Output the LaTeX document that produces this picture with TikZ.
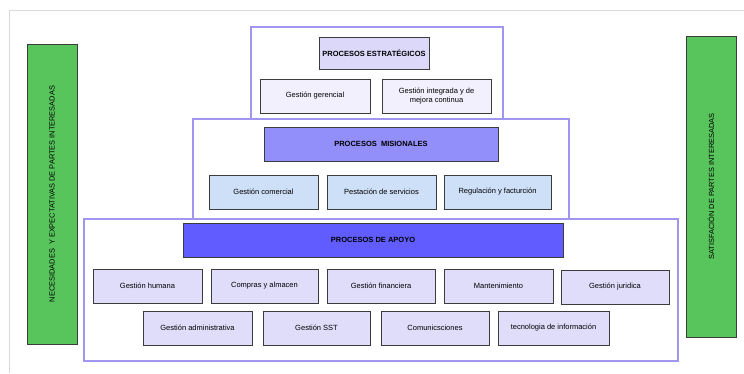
\documentclass[tikz,border=0pt]{standalone}
\usepackage{fontspec}
\setmainfont{Liberation Sans}
\definecolor{marco}{RGB}{160,150,240}
\definecolor{verde}{RGB}{88,196,92}
\definecolor{borde}{RGB}{60,60,60}
\definecolor{esthead}{RGB}{220,216,250}
\definecolor{estsub}{RGB}{241,240,252}
\definecolor{mishead}{RGB}{146,142,250}
\definecolor{missub}{RGB}{206,223,248}
\definecolor{apohead}{RGB}{96,92,255}
\definecolor{aposub}{RGB}{223,221,250}
\tikzset{
  caja/.style={draw=borde, line width=0.8pt, inner sep=1pt, align=center,
    font=\fontsize{7.5}{8.5}\selectfont, minimum height=34pt},
  cabeza/.style={caja, font=\fontsize{7.5}{8.5}\selectfont\bfseries},
  barra/.style={draw=borde, line width=0.8pt, fill=verde, minimum height=50pt,
    font=\fontsize{7.4}{8}\selectfont, rotate=90, inner sep=0pt},
  marcobox/.style={draw=marco, line width=1.1pt, fill=white}
}
\begin{document}
\begin{tikzpicture}[x=1pt,y=-1pt]
\useasboundingbox (0,0) rectangle (744,373);
\fill[white] (0,0) rectangle (744,373);
\draw[black!15, line width=1pt] (744,10) -- (9,10) -- (9,373);
% marcos
\draw[marcobox] (251,27) rectangle (503,119);
\draw[marcobox] (193,119) rectangle (569,219);
\draw[marcobox] (84,219) rectangle (678,361);
% estrategicos
\node[cabeza, fill=esthead, minimum width=110pt, minimum height=32pt] (est) at (374,53) {PROCESOS ESTRATÉGICOS};
\node[caja, fill=estsub, minimum width=110pt] (gerencial) at (315,96) {Gestión gerencial};
\node[caja, fill=estsub, minimum width=109pt] (integrada) at (436.5,96) {Gestión integrada y de\\mejora continua};
% misionales
\node[cabeza, fill=mishead, minimum width=234pt] (mis) at (381,144) {PROCESOS\ \ MISIONALES};
\node[caja, fill=missub, minimum width=109pt] (comercial) at (263.5,192) {Gestión comercial};
\node[caja, fill=missub, minimum width=109pt] (servicios) at (381.5,192) {Pestación de servicios};
\node[caja, fill=missub, minimum width=107pt] (regulacion) at (497.5,192) {Regulación y facturción};
% apoyo
\node[cabeza, fill=apohead, minimum width=380pt] (apo) at (373,240) {PROCESOS DE APOYO};
\node[caja, fill=aposub, minimum width=109pt] (humana) at (147.5,286) {Gestión humana};
\node[caja, fill=aposub, minimum width=107pt] (compras) at (264.5,286) {Compras y almacen};
\node[caja, fill=aposub, minimum width=108pt] (financiera) at (381,286) {Gestión financiera};
\node[caja, fill=aposub, minimum width=109pt] (mante) at (498.5,286) {Mantenimiento};
\node[caja, fill=aposub, minimum width=108pt] (juridica) at (615,287) {Gestión juridica};
\node[caja, fill=aposub, minimum width=109pt] (admin) at (197.5,328) {Gestión administrativa};
\node[caja, fill=aposub, minimum width=107pt] (sst) at (316.5,328) {Gestión SST};
\node[caja, fill=aposub, minimum width=108pt] (comunica) at (435,328) {Comunicsciones};
\node[caja, fill=aposub, minimum width=111pt] (tecno) at (553.5,328) {tecnologia de información};
% partes interesadas
\node[barra, minimum width=300pt] (necesidades) at (52,194) {NECESIDADES\ \ Y EXPECTATIVAS DE PARTES INTERESADAS};
\node[barra, minimum width=301pt] (satisfaccion) at (711,186.5) {SATISFACIÓN DE PARTES INTERESADAS};
\end{tikzpicture}
\end{document}
